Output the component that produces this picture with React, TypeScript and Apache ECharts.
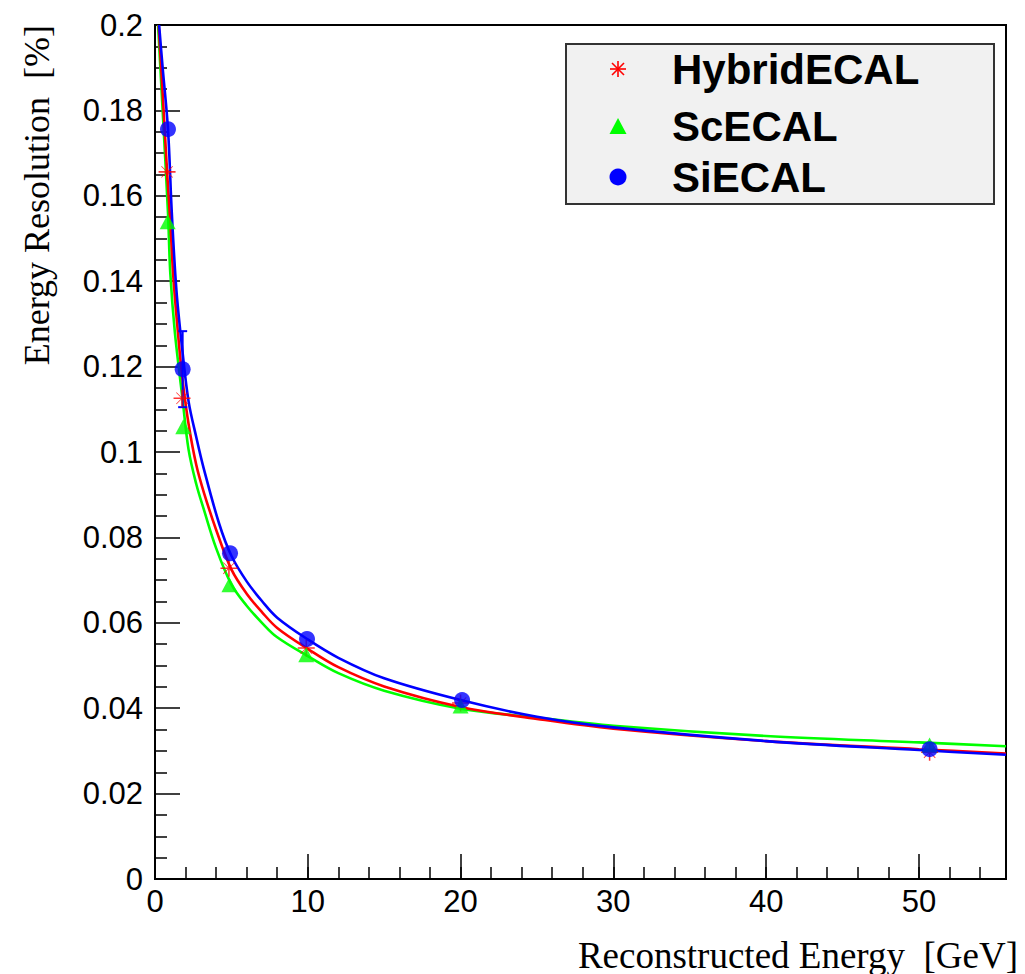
import React, { useEffect, useRef } from "react";
import * as echarts from "echarts";

// ---- data ----
const seriesNames = ["HybridECAL", "ScECAL", "SiECAL"];

const hybridE = [0.79, 1.77, 4.84, 9.9, 20.0, 50.7];
const hybridRes = [0.1656, 0.1126, 0.0728, 0.0541, 0.0412, 0.0297];

const scE = [0.83, 1.85, 4.87, 9.9, 20.0, 50.7];
const scRes = [0.1539, 0.1059, 0.0689, 0.0525, 0.0405, 0.0314];

const siE = [0.85, 1.81, 4.91, 9.95, 20.1, 50.7];
const siRes = [0.1756, 0.1194, 0.0763, 0.0562, 0.0419, 0.0304];
const siErr = [0, 0.0089, 0, 0, 0, 0];

// fitted curves
const hybridFitE = [0.24, 0.5, 0.8, 1.0, 1.2, 1.5, 1.8, 2.2, 2.7, 3.2, 4.0, 5.0, 6.0, 7.0, 8.0, 10, 12, 15, 20, 25, 30, 40, 50, 55.7];
const hybridFitRes = [0.2, 0.184, 0.165, 0.154, 0.141, 0.128, 0.117, 0.1065, 0.097, 0.0905, 0.0818, 0.0725, 0.0668, 0.0625, 0.0588, 0.0539, 0.0496, 0.0451, 0.0403, 0.0375, 0.0352, 0.0323, 0.0304, 0.0294];

const scFitE = [0.2, 0.5, 0.85, 1.0, 1.3, 1.8, 2.2, 2.7, 3.2, 4.0, 5.0, 6.0, 7.0, 8.0, 10, 12, 15, 20, 25, 30, 40, 50, 55.7];
const scFitRes = [0.2, 0.18, 0.156, 0.142, 0.128, 0.1125, 0.1005, 0.0925, 0.0865, 0.0775, 0.069, 0.064, 0.06, 0.0566, 0.0522, 0.0482, 0.0441, 0.0399, 0.0378, 0.0359, 0.0335, 0.032, 0.0311];

const siFitE = [0.27, 0.5, 0.85, 1.1, 1.4, 1.8, 2.2, 2.7, 3.2, 4.2, 5.0, 6.0, 7.0, 8.0, 10, 12, 15, 20, 25, 30, 40, 50, 55.7];
const siFitRes = [0.2, 0.19, 0.1756, 0.156, 0.138, 0.1235, 0.1118, 0.1035, 0.096, 0.0832, 0.0757, 0.0697, 0.0651, 0.0612, 0.0561, 0.0518, 0.047, 0.0419, 0.038, 0.0355, 0.0323, 0.0302, 0.0291];

const xMin = 0;
const xMax = 55.7;
const xMajor = 10;
const xMinor = 2;
const yMin = 0;
const yMax = 0.2;
const yMajor = 0.02;

const colors = ["#ff0000", "#00ff00", "#0000ff"];

const zip = (a: number[], b: number[]) => a.map((v, i) => [v, b[i]]);

const ASTERISK =
  "path://M0,45.5L100,45.5L100,54.5L0,54.5Z M45.5,0L54.5,0L54.5,100L45.5,100Z M14.8,18L18,14.8L85.2,82L82,85.2Z M82,14.8L85.2,18L18,85.2L14.8,82Z";

export default function App() {
  const ref = useRef<HTMLDivElement>(null);

  useEffect(() => {
    if (!ref.current) return;
    const chart = echarts.init(ref.current, undefined, { renderer: "svg" });

    const tickFont = { fontFamily: "Liberation Sans, Arial, sans-serif", fontSize: 31, color: "#000" };

    const legendTop = 43;
    const legendRows = [69, 126, 177];
    const markerX = 618;
    const textX = 672;

    const errData = siE
      .map((e, i) => [e, siRes[i], siErr[i]])
      .filter((r) => r[2] > 0);

    const fitLine = (name: string, e: number[], r: number[], color: string, z: number) => ({
      name,
      type: "line",
      data: zip(e, r),
      showSymbol: false,
      smooth: 0.35,
      lineStyle: { color, width: 2.6 },
      z,
    });

    const starStroke = { stroke: colors[0], lineWidth: 1.6 };

    const option: any = {
      animation: false,
      backgroundColor: "#fff",
      grid: {
        left: 155,
        top: 25,
        right: 19,
        bottom: 95,
        show: true,
        borderColor: "#000",
        borderWidth: 2,
        backgroundColor: "transparent",
      },
      xAxis: [
        {
          type: "value",
          min: xMin,
          max: xMax,
          interval: xMajor,
          position: "bottom",
          axisLine: { show: true, lineStyle: { color: "#000", width: 2 } },
          axisTick: { show: true, inside: true, length: 25, lineStyle: { color: "#000", width: 1.5 } },
          axisLabel: { ...tickFont, margin: 7, showMaxLabel: false, formatter: (v: number) => String(Math.round(v)) },
          splitLine: { show: false },
        },
        {
          type: "value",
          min: xMin,
          max: xMax,
          interval: xMinor,
          position: "bottom",
          axisLine: { show: false },
          axisTick: { show: true, inside: true, length: 12, lineStyle: { color: "#000", width: 1.5 } },
          axisLabel: { show: false },
          splitLine: { show: false },
        },
      ],
      yAxis: {
        type: "value",
        min: yMin,
        max: yMax,
        interval: yMajor,
        axisLine: { show: true, lineStyle: { color: "#000", width: 2 } },
        axisTick: { show: true, inside: true, length: 25, lineStyle: { color: "#000", width: 1.5 } },
        minorTick: { show: true, splitNumber: 4, length: 12, lineStyle: { color: "#000", width: 1.5 } },
        axisLabel: { ...tickFont, margin: 12, formatter: (v: number) => String(+v.toFixed(3)) },
        splitLine: { show: false },
        minorSplitLine: { show: false },
      },
      series: [
        fitLine("ScECAL fit", scFitE, scFitRes, colors[1], 2),
        fitLine("HybridECAL fit", hybridFitE, hybridFitRes, colors[0], 3),
        fitLine("SiECAL fit", siFitE, siFitRes, colors[2], 4),
        {
          name: "SiECAL error",
          type: "custom",
          data: errData,
          encode: { x: 0, y: 1 },
          z: 5,
          renderItem: (params: any, api: any) => {
            const x = api.value(0);
            const y = api.value(1);
            const e = api.value(2);
            const top = api.coord([x, y + e]);
            const bot = api.coord([x, y - e]);
            const st = { stroke: colors[2], lineWidth: 2 };
            return {
              type: "group",
              children: [
                { type: "line", shape: { x1: top[0], y1: top[1], x2: bot[0], y2: bot[1] }, style: st },
                { type: "line", shape: { x1: top[0] - 4.5, y1: top[1], x2: top[0] + 4.5, y2: top[1] }, style: st },
                { type: "line", shape: { x1: bot[0] - 4.5, y1: bot[1], x2: bot[0] + 4.5, y2: bot[1] }, style: st },
              ],
            };
          },
        },
        {
          name: seriesNames[0],
          type: "scatter",
          data: zip(hybridE, hybridRes),
          symbol: ASTERISK,
          symbolSize: 17,
          itemStyle: { color: colors[0] },
          z: 6,
        },
        {
          name: seriesNames[1],
          type: "scatter",
          data: zip(scE, scRes),
          symbol: "triangle",
          symbolSize: [16, 15],
          itemStyle: { color: colors[1] },
          z: 7,
        },
        {
          name: seriesNames[2],
          type: "scatter",
          data: zip(siE, siRes),
          symbol: "circle",
          symbolSize: 16,
          itemStyle: { color: colors[2] },
          z: 8,
        },
      ],
      graphic: [
        {
          type: "rect",
          left: 565,
          top: legendTop,
          shape: { width: 428, height: 160 },
          style: { fill: "#f1f1f1", stroke: "#333", lineWidth: 2 },
          z: 20,
        },
        // legend markers
        { type: "line", z: 22, shape: { x1: markerX - 8, y1: legendRows[0], x2: markerX + 8, y2: legendRows[0] }, style: starStroke },
        { type: "line", z: 22, shape: { x1: markerX, y1: legendRows[0] - 8, x2: markerX, y2: legendRows[0] + 8 }, style: starStroke },
        { type: "line", z: 22, shape: { x1: markerX - 6, y1: legendRows[0] - 6, x2: markerX + 6, y2: legendRows[0] + 6 }, style: starStroke },
        { type: "line", z: 22, shape: { x1: markerX + 6, y1: legendRows[0] - 6, x2: markerX - 6, y2: legendRows[0] + 6 }, style: starStroke },
        {
          type: "polygon",
          z: 22,
          shape: { points: [[markerX, legendRows[1] - 8], [markerX + 8.5, legendRows[1] + 8], [markerX - 8.5, legendRows[1] + 8]] },
          style: { fill: colors[1] },
        },
        {
          type: "circle",
          z: 22,
          shape: { cx: markerX, cy: legendRows[2], r: 8.5 },
          style: { fill: colors[2] },
        },
        ...seriesNames.map((n, i) => ({
          type: "text",
          x: textX,
          y: legendRows[i],
          z: 22,
          style: {
            text: n,
            fontFamily: "Liberation Sans, Arial, sans-serif",
            fontWeight: "bold",
            fontSize: 42,
            fill: "#000",
            align: "left",
            verticalAlign: "middle",
          },
        })),
        // axis titles
        {
          type: "text",
          x: 1018,
          y: 955,
          z: 22,
          style: {
            text: "Reconstructed Energy  [GeV]",
            fontFamily: "Liberation Serif, Times New Roman, serif",
            fontSize: 37,
            fill: "#000",
            align: "right",
            verticalAlign: "middle",
          },
        },
        {
          type: "text",
          x: 37,
          y: 25,
          rotation: Math.PI / 2,
          z: 22,
          style: {
            text: "Energy Resolution  [%]",
            fontFamily: "Liberation Serif, Times New Roman, serif",
            fontSize: 36,
            fill: "#000",
            align: "right",
            verticalAlign: "middle",
          },
        },
      ],
    };

    chart.setOption(option);
    return () => chart.dispose();
  }, []);

  return (
    <div
      ref={ref}
      style={{ position: "fixed", left: 0, top: 0, width: 1025, height: 974, background: "#fff" }}
    />
  );
}
